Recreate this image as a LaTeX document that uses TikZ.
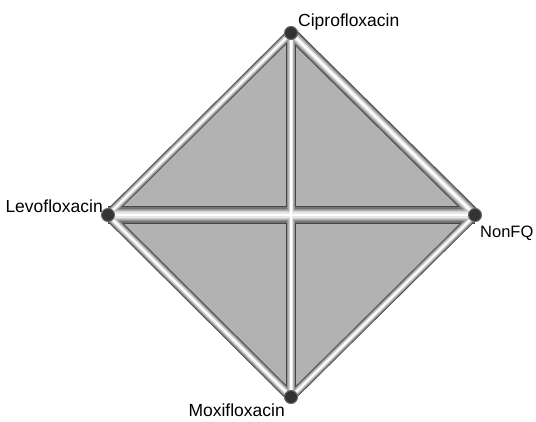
\documentclass[tikz,border=0pt]{standalone}
\usepackage{fontspec}
\setmainfont{Liberation Sans}
\begin{document}
\begin{tikzpicture}[x=1pt,y=-1pt,
  vtx/.style={circle,fill=black!80,draw=black!60,line width=1pt,minimum size=13pt,inner sep=0pt},
  lbl/.style={font=\fontsize{17.5}{20}\selectfont,inner sep=0pt,text=black}]
\useasboundingbox (0,0) rectangle (536,421);
\fill[white] (0,0) rectangle (536,421);
\coordinate (C) at (291,33);
\coordinate (L) at (108,215);
\coordinate (N) at (475,215);
\coordinate (M) at (291,397);
\fill[gray!60] (C)--(N)--(M)--(L)--cycle;
\foreach \f/\c in {1/black!72, 0.86/black!55, 0.72/black!42, 0.58/black!30, 0.44/black!19, 0.3/black!9, 0.15/white}{
  \foreach \a/\b/\w in {C/L/9, C/N/12, L/M/10, M/N/9, C/M/10, L/N/18}{
    \draw[line width={\f*\w pt}, \c] (\a)--(\b);
  }
}
\node[vtx] (vC) at (C) {};
\node[vtx] (vL) at (L) {};
\node[vtx] (vN) at (N) {};
\node[vtx] (vM) at (M) {};
\node[lbl,anchor=base west] (tC) at (298,26) {Ciprofloxacin};
\node[lbl,anchor=base east] (tL) at (103,212) {Levofloxacin};
\node[lbl,anchor=base west,font=\fontsize{16.5}{19}\selectfont] (tN) at (480,237) {NonFQ};
\node[lbl,anchor=base east] (tM) at (285,416) {Moxifloxacin};
\end{tikzpicture}
\end{document}
